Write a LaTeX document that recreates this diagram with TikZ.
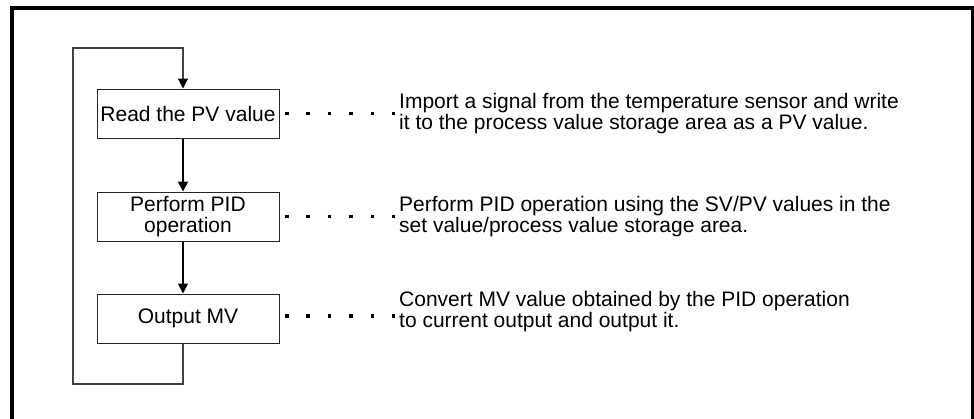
\documentclass[tikz,border=0pt]{standalone}
\usepackage{fontspec}
\setmainfont{Liberation Sans}
\usetikzlibrary{arrows.meta,calc}
\begin{document}
\begin{tikzpicture}[x=1pt,y=1pt,
  stepbox/.style={draw=black!85,line width=1pt,minimum width=182pt,minimum height=49pt,inner sep=1pt,align=center,font=\fontsize{21}{21.5}\selectfont},
  desc/.style={anchor=west,align=left,inner sep=0pt,font=\fontsize{21}{21.5}\selectfont},
  flow/.style={line width=1.6pt,-{Triangle[length=10pt,width=10pt]}},
  loopline/.style={line width=1.2pt,draw=black!75},
  dots/.style={line width=3.5pt,dash pattern=on 3.5pt off 17.9pt}]
\useasboundingbox (0,0) rectangle (974,-418);
\fill[white] (0,0) rectangle (974,-418);
% frame
\draw[line width=4pt] (12,-420) -- (12,-8) -- (972.5,-8) -- (972.5,-420);
% boxes
\node[stepbox] (b1) at (188,-113.5) {Read the PV value};
\node[stepbox] (b2) at (188,-216.5) {Perform PID\\operation};
\node[stepbox] (b3) at (188,-318.5) {Output MV};
% descriptions
\node[desc] (d1) at (399,-113.5) {Import a signal from the temperature sensor and write\\it to the process value storage area as a PV value.};
\node[desc] (d2) at (399,-216.5) {Perform PID operation using the SV/PV values in the\\set value/process value storage area.};
\node[desc] (d3) at (399,-311.5) {Convert MV value obtained by the PID operation\\to current output and output it.};
% dotted leaders
\draw[dots] ([xshift=5.5pt]b1.east) -- ([xshift=-4pt]d1.west);
\draw[dots] ([xshift=5.5pt]b2.east) -- ([xshift=-4pt]d2.west);
\draw[dots] ([xshift=5.5pt]b3.east|-0,-316) -- ([xshift=-4pt]d3.west|-0,-316);
% flow arrows
\draw[flow] ([xshift=-5pt]b1.south) -- ([xshift=-5pt]b2.north);
\draw[flow] ([xshift=-5pt]b2.south) -- ([xshift=-5pt]b3.north);
% loop
\coordinate (lb) at (73,-384);
\coordinate (lt) at (73,-48);
\draw[loopline] ([xshift=-5pt]b3.south) |- (lb) -- (lt) -| ([xshift=-5pt,yshift=9pt]b1.north);
\draw[flow,line width=1.2pt] ([xshift=-5pt,yshift=10pt]b1.north) -- ([xshift=-5pt]b1.north);
\end{tikzpicture}
\end{document}
